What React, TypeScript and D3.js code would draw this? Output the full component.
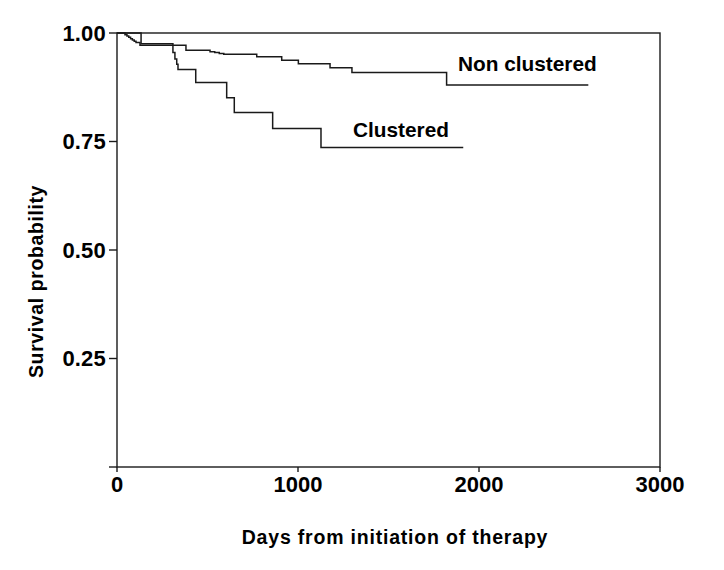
import React from "react";
import * as d3 from "d3";

const xTicks = [0, 1000, 2000, 3000];
const yTicks = [0.25, 0.5, 0.75, 1.0];
const yTickLabels = ["0.25", "0.50", "0.75", "1.00"];

const nonClusteredDays = [0, 44, 55, 65, 75, 85, 95, 105, 127, 381, 514, 540, 565, 590, 772, 910, 1002, 1177, 1298, 1821, 2604];
const nonClusteredSurv = [1, 0.996, 0.993, 0.99, 0.987, 0.984, 0.981, 0.978, 0.972, 0.96, 0.957, 0.955, 0.953, 0.951, 0.945, 0.937, 0.929, 0.92, 0.909, 0.88, 0.88];

const clusteredDays = [0, 133, 309, 320, 330, 337, 435, 606, 648, 860, 1127, 1913];
const clusteredSurv = [1, 0.975, 0.955, 0.94, 0.928, 0.916, 0.886, 0.851, 0.817, 0.78, 0.736, 0.736];

const seriesLabels = ["Non clustered", "Clustered"];

const W = 724;
const H = 570;
const L = 117, R = 660, T = 33, B = 467;

export default function App() {
  const x = d3.scaleLinear().domain([0, 3000]).range([L, R]);
  const y = d3.scaleLinear().domain([0, 1]).range([B, T]);
  const line = d3
    .line<[number, number]>()
    .x((d) => x(d[0]))
    .y((d) => y(d[1]))
    .curve(d3.curveStepAfter);
  const nc = nonClusteredDays.map((d, i) => [d, nonClusteredSurv[i]] as [number, number]);
  const cl = clusteredDays.map((d, i) => [d, clusteredSurv[i]] as [number, number]);
  const font = "'Liberation Sans', Arial, Helvetica, sans-serif";
  const stroke = "#1a1a1a";
  return (
    <svg
      width={W}
      height={H}
      style={{ position: "absolute", left: 0, top: 0, background: "#fff" }}
      fontFamily={font}
      fontWeight="bold"
    >
      <rect x={L} y={T} width={R - L} height={B - T} fill="none" stroke={stroke} strokeWidth={1.4} />
      {[0, ...yTicks].map((t) => (
        <line key={"yt" + t} x1={L - 8} x2={L} y1={y(t)} y2={y(t)} stroke={stroke} strokeWidth={1.4} />
      ))}
      {yTicks.map((t, i) => (
        <text key={"yl" + t} x={L - 11} y={y(t) + 7.5} textAnchor="end" fontSize={22} fill="#000" letterSpacing={0.2}>
          {yTickLabels[i]}
        </text>
      ))}
      {xTicks.map((t) => (
        <line key={"xt" + t} x1={x(t)} x2={x(t)} y1={B} y2={B + 5} stroke={stroke} strokeWidth={1.4} />
      ))}
      {xTicks.map((t) => (
        <text key={"xl" + t} x={x(t)} y={B + 24.5} textAnchor="middle" fontSize={22} fill="#000">
          {String(t)}
        </text>
      ))}
      <path d={line(nc) || ""} fill="none" stroke={stroke} strokeWidth={1.5} />
      <path d={line(cl) || ""} fill="none" stroke={stroke} strokeWidth={1.5} />
      <text x={458} y={70.5} fontSize={20.8} fill="#000">
        {seriesLabels[0]}
      </text>
      <text x={353} y={136.5} fontSize={20.8} fill="#000">
        {seriesLabels[1]}
      </text>
      <text x={395} y={543.5} textAnchor="middle" fontSize={19.5} letterSpacing={0.8} fill="#000">
        Days from initiation of therapy
      </text>
      <text
        transform={`translate(43,${281.5}) rotate(-90)`}
        textAnchor="middle"
        fontSize={19.5}
        letterSpacing={0.6}
        fill="#000"
      >
        Survival probability
      </text>
    </svg>
  );
}
